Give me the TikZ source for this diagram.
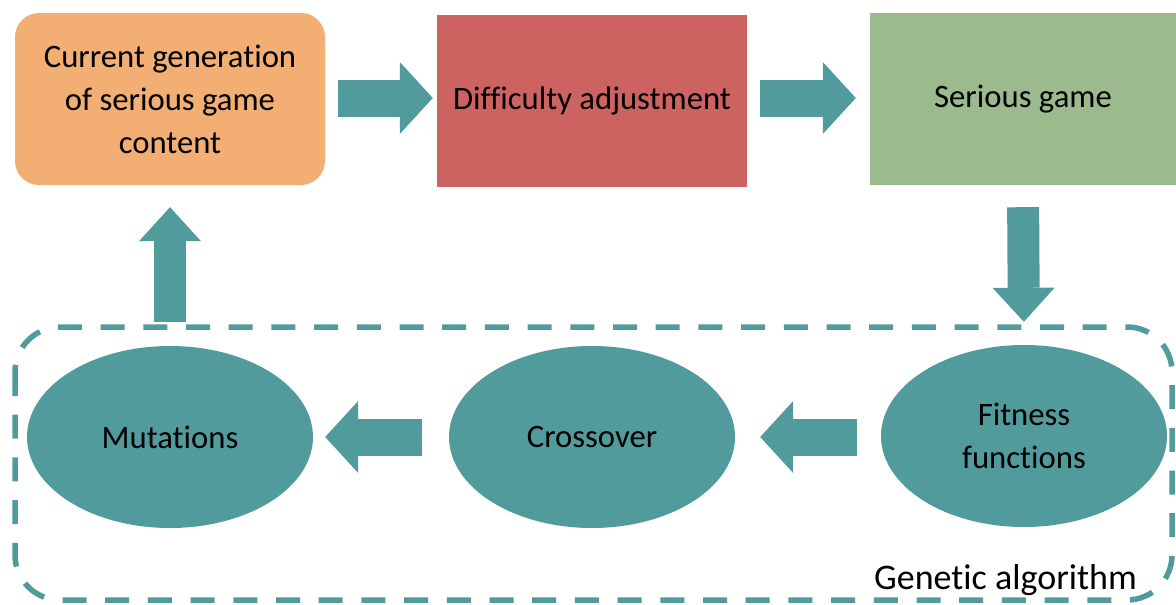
\documentclass[tikz,border=0pt]{standalone}
\usepackage{fontspec}
\setmainfont{Carlito}[Ligatures=NoCommon]
\usetikzlibrary{shapes.geometric,arrows.meta}
\definecolor{boxorange}{HTML}{F3AE73}
\definecolor{boxred}{HTML}{CC6361}
\definecolor{boxgreen}{HTML}{9BBB8F}
\definecolor{teal}{HTML}{529B9C}
\begin{document}
\begin{tikzpicture}[x=1pt,y=-1pt,
  lbl/.style={font=\fontsize{32.7}{43}\selectfont, text=black, align=center},
  topbox/.style={lbl, inner sep=0pt, minimum height=172pt},
  gaell/.style={lbl, ellipse, fill=teal, inner sep=0pt, minimum width=286pt, minimum height=182pt},
  harrow/.style={teal, line width=37pt, -{Triangle[length=33pt,width=72pt,line width=0pt]}},
  varrow/.style={teal, line width=32pt, -{Triangle[length=34pt,width=62pt,line width=0pt]}},
  gaframe/.style={draw=teal, line width=5.5pt, dash pattern=on 24pt off 18.7pt, rounded corners=45pt}
]
\useasboundingbox (0,0) rectangle (1176,605);

% top row: content, adjustment, game
\node[topbox, fill=boxorange, rounded corners=24pt, minimum width=310pt] (cur) at (170,99)
  {Current generation\\of serious game\\content};
\node[topbox, fill=boxred, minimum width=310pt] (diff) at (592,101) {Difficulty adjustment};
\node[topbox, fill=boxgreen, minimum width=306pt] (game) at (1023,99) {Serious game};

% genetic algorithm frame
\draw[gaframe] (15,327) rectangle (1172,600);
\node[lbl, font=\fontsize{36}{43}\selectfont, anchor=base east, inner sep=0pt] (galbl) at (1137,589)
  {Genetic algorithm};

% genetic operators
\node[gaell] (mut) at (170,437) {Mutations};
\node[gaell] (cross) at (592,437) {Crossover};
\node[gaell] (fit) at (1024,436) {Fitness\\functions};

% block arrows
\draw[harrow, shorten <=13pt, shorten >=4pt] (cur.east |- 0,98) -- (diff.west |- 0,98);
\draw[harrow, shorten <=13pt, shorten >=14pt] (diff.east |- 0,98) -- (game.west |- 0,98);
\draw[varrow, shorten <=22pt, shorten >=23pt] (game.south) -- (fit.north);
\draw[harrow, shorten <=24pt, shorten >=25pt] (fit.west |- 0,437) -- (cross.east);
\draw[harrow, shorten <=27pt, shorten >=12pt] (cross.west) -- (mut.east);
\draw[varrow, shorten <=24pt, shorten >=22pt] (mut.north) -- (cur.south);
\end{tikzpicture}
\end{document}
